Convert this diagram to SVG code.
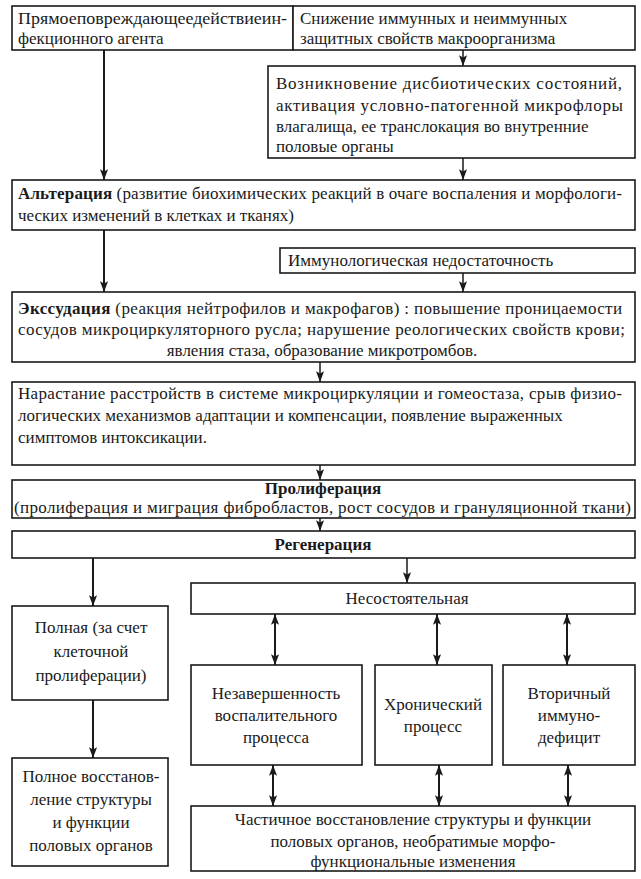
<svg xmlns="http://www.w3.org/2000/svg" width="641" height="879" viewBox="0 0 641 879">
<style>
.b{fill:#fff;stroke:#1a1a1a;stroke-width:1.6}
text{font-family:'Liberation Serif','Times New Roman',serif;font-size:17px;fill:#1a1a1a}
.c{text-anchor:middle}
.bd{font-weight:bold}
.cn line{stroke:#1a1a1a;stroke-width:1.5;fill:none}
.cn line.t{stroke-width:2}
</style>
<defs>
<marker id="ah" viewBox="0 0 12 10" refX="12" refY="5" markerWidth="12" markerHeight="9" markerUnits="userSpaceOnUse" orient="auto-start-reverse">
<path d="M0,0.5 L12,5 L0,9.5 L2.5,5 z" fill="#1a1a1a"/>
</marker>
</defs>
<rect width="641" height="879" fill="#fff"/>

<g class="cn">
<line class="t" x1="104" y1="50" x2="104" y2="180" marker-end="url(#ah)"/>
<line x1="463" y1="50" x2="463" y2="66" marker-end="url(#ah)"/>
<line x1="463" y1="158" x2="463" y2="180" marker-end="url(#ah)"/>
<line class="t" x1="104" y1="230" x2="104" y2="292" marker-end="url(#ah)"/>
<line x1="463" y1="273" x2="463" y2="292" marker-end="url(#ah)"/>
<line x1="320" y1="362" x2="320" y2="382" marker-end="url(#ah)"/>
<line x1="320" y1="465" x2="320" y2="480" marker-end="url(#ah)"/>
<line x1="320" y1="518" x2="320" y2="531" marker-end="url(#ah)"/>
<line x1="407" y1="558" x2="407" y2="583" marker-end="url(#ah)"/>
<line class="t" x1="93" y1="558" x2="93" y2="606" marker-end="url(#ah)"/>
<line class="t" x1="93" y1="700" x2="93" y2="758" marker-end="url(#ah)"/>
<line class="t" x1="275" y1="614" x2="275" y2="665" marker-start="url(#ah)" marker-end="url(#ah)"/>
<line class="t" x1="437" y1="614" x2="437" y2="665" marker-start="url(#ah)" marker-end="url(#ah)"/>
<line class="t" x1="567" y1="614" x2="567" y2="665" marker-start="url(#ah)" marker-end="url(#ah)"/>
<line class="t" x1="273" y1="765" x2="273" y2="806" marker-start="url(#ah)" marker-end="url(#ah)"/>
<line class="t" x1="439" y1="765" x2="439" y2="806" marker-start="url(#ah)" marker-end="url(#ah)"/>
<line class="t" x1="568" y1="765" x2="568" y2="806" marker-start="url(#ah)" marker-end="url(#ah)"/>
</g>

<g id="n-direct">
<rect class="b" x="12" y="6" width="281" height="44"/>
<text x="18" y="24" textLength="269" lengthAdjust="spacingAndGlyphs">Прямоеповреждающеедействиеин-</text>
<text x="18" y="44">фекционного агента</text>
</g>
<g id="n-immune">
<rect class="b" x="293" y="6" width="342" height="44"/>
<text x="300" y="24">Снижение иммунных и неиммунных</text>
<text x="300" y="44">защитных свойств макроорганизма</text>
</g>
<g id="n-dysbiosis">
<rect class="b" x="268" y="66" width="367" height="92"/>
<text x="276" y="89" textLength="346" lengthAdjust="spacing">Возникновение дисбиотических состояний,</text>
<text x="276" y="111" textLength="347" lengthAdjust="spacing">активация условно-патогенной микрофлоры</text>
<text x="276" y="132">влагалища, ее транслокация во внутренние</text>
<text x="276" y="152">половые органы</text>
</g>
<g id="n-alteration">
<rect class="b" x="12" y="180" width="623" height="50"/>
<text x="18" y="199" textLength="604" lengthAdjust="spacing"><tspan class="bd">Альтерация</tspan> (развитие биохимических реакций в очаге воспаления и морфологи-</text>
<text x="18" y="221">ческих изменений в клетках и тканях)</text>
</g>
<g id="n-immdef">
<rect class="b" x="280" y="248" width="355" height="25"/>
<text x="288" y="266">Иммунологическая недостаточность</text>
</g>
<g id="n-exudation">
<rect class="b" x="12" y="292" width="623" height="70"/>
<text x="18" y="314" textLength="604" lengthAdjust="spacing"><tspan class="bd">Экссудация</tspan> (реакция нейтрофилов и макрофагов) : повышение проницаемости</text>
<text x="18" y="335" textLength="607" lengthAdjust="spacing">сосудов микроциркуляторного русла; нарушение реологических свойств крови;</text>
<text class="c" x="322" y="356">явления стаза, образование микротромбов.</text>
</g>
<g id="n-disorder">
<rect class="b" x="12" y="382" width="623" height="83"/>
<text x="18" y="399" textLength="604" lengthAdjust="spacing">Нарастание расстройств в системе микроциркуляции и гомеостаза, срыв физио-</text>
<text x="18" y="421">логических механизмов адаптации и компенсации, появление выраженных</text>
<text x="18" y="443">симптомов интоксикации.</text>
</g>
<g id="n-proliferation">
<rect class="b" x="12" y="480" width="623" height="38"/>
<text class="c bd" x="323" y="494">Пролиферация</text>
<text x="14" y="513" textLength="617" lengthAdjust="spacing">(пролиферация и миграция фибробластов, рост сосудов и грануляционной ткани)</text>
</g>
<g id="n-regeneration">
<rect class="b" x="12" y="531" width="623" height="27"/>
<text class="c bd" x="323" y="550">Регенерация</text>
</g>
<g id="n-full">
<rect class="b" x="12" y="606" width="156" height="94"/>
<text class="c" x="91" y="633">Полная (за счет</text>
<text class="c" x="91" y="657">клеточной</text>
<text class="c" x="91" y="681">пролиферации)</text>
</g>
<g id="n-fullrestore">
<rect class="b" x="12" y="758" width="156" height="108"/>
<text class="c" x="91" y="782">Полное восстанов-</text>
<text class="c" x="91" y="805">ление структуры</text>
<text class="c" x="91" y="828">и функции</text>
<text class="c" x="91" y="851">половых органов</text>
</g>
<g id="n-insufficient">
<rect class="b" x="191" y="583" width="444" height="31"/>
<text class="c" x="407" y="604">Несостоятельная</text>
</g>
<g id="n-incomplete">
<rect class="b" x="191" y="665" width="171" height="100"/>
<text class="c" x="276" y="699">Незавершенность</text>
<text class="c" x="276" y="721">воспалительного</text>
<text class="c" x="276" y="743">процесса</text>
</g>
<g id="n-chronic">
<rect class="b" x="375" y="665" width="117" height="100"/>
<text class="c" x="433" y="710">Хронический</text>
<text class="c" x="433" y="732">процесс</text>
</g>
<g id="n-secondary">
<rect class="b" x="503" y="665" width="132" height="100"/>
<text class="c" x="569" y="699">Вторичный</text>
<text class="c" x="569" y="721">иммуно-</text>
<text class="c" x="569" y="743">дефицит</text>
</g>
<g id="n-partial">
<rect class="b" x="191" y="806" width="444" height="65"/>
<text class="c" x="413" y="825">Частичное восстановление структуры и функции</text>
<text class="c" x="413" y="847">половых органов, необратимые морфо-</text>
<text class="c" x="413" y="867">функциональные изменения</text>
</g>
</svg>
